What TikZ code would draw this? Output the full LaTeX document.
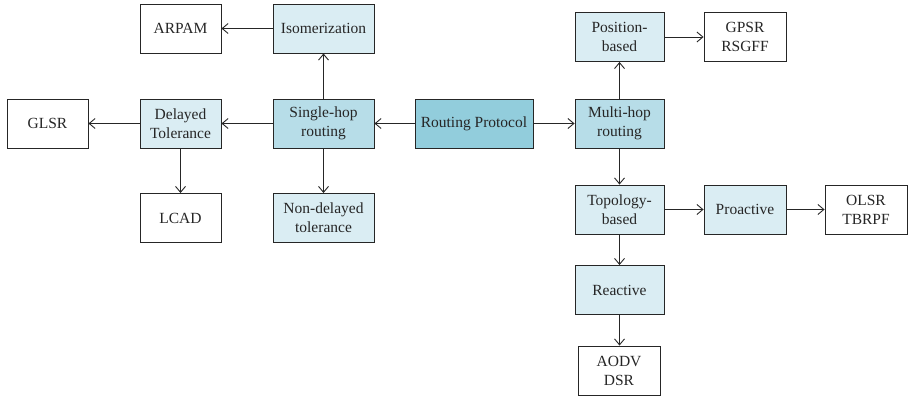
\documentclass[tikz,border=0pt]{standalone}
\usepackage{fontspec}
\setmainfont{Liberation Serif}
\usetikzlibrary{arrows.meta}

\definecolor{lightblue}{HTML}{DAEDF3}
\definecolor{midblue}{HTML}{B7DDE8}
\definecolor{darkblue}{HTML}{92CDDC}

\tikzset{
  box/.style={draw=black!85, line width=0.9pt, minimum height=49pt, inner sep=1pt,
    align=center, font=\fontsize{15.5}{19}\selectfont, text=black!85},
  leafbox/.style={box, fill=white},
  subbox/.style={box, fill=lightblue},
  hopbox/.style={box, fill=midblue},
  rootbox/.style={box, fill=darkblue},
  link/.style={->, draw=black!85, line width=0.9pt},
  >={Straight Barb[length=6pt,width=10pt]}
}

\begin{document}
\begin{tikzpicture}[x=1pt,y=-1pt]
            \useasboundingbox (0,0) rectangle (908,396);
            % root
            \node[rootbox, minimum width=118pt] (rp) at (474,123.5) {Routing Protocol};
            % single-hop side
            \node[hopbox, minimum width=101pt] (single) at (323.5,123.5) {Single-hop\\routing};
            \node[subbox, minimum width=101pt] (iso) at (323.5,28.5) {Isomerization};
            \node[subbox, minimum width=101pt] (nondelay) at (323.5,218) {Non-delayed\\tolerance};
            \node[subbox, minimum width=81pt] (delay) at (180.5,123.5) {Delayed\\Tolerance};
            \node[leafbox, minimum width=81pt] (arpam) at (180.5,28.5) {ARPAM};
            \node[leafbox, minimum width=81pt] (glsr) at (47.5,123.5) {GLSR};
            \node[leafbox, minimum width=81pt] (lcad) at (180.5,218) {LCAD};
            % multi-hop side
            \node[hopbox, minimum width=89pt] (multi) at (619.5,123.5) {Multi-hop\\routing};
            \node[subbox, minimum width=89pt] (pos) at (619.5,37) {Position-\\based};
            \node[leafbox, minimum width=82pt] (gpsr) at (745,37) {GPSR\\RSGFF};
            \node[subbox, minimum width=89pt] (topo) at (619.5,209.5) {Topology-\\based};
            \node[subbox, minimum width=82pt] (pro) at (745,209.5) {Proactive};
            \node[leafbox, minimum width=82pt] (olsr) at (866,209.5) {OLSR\\TBRPF};
            \node[subbox, minimum width=89pt] (rea) at (619.5,290) {Reactive};
            \node[leafbox, minimum width=82pt] (aodv) at (619,370.5) {AODV\\DSR};
            % connectors
            \draw[link] (rp) -- (single);
            \draw[link] (rp) -- (multi);
            \draw[link] (single) -- (iso);
            \draw[link] (single) -- (nondelay);
            \draw[link] (single) -- (delay);
            \draw[link] (iso) -- (arpam);
            \draw[link] (delay) -- (glsr);
            \draw[link] (delay) -- (lcad);
            \draw[link] (multi) -- (pos);
            \draw[link] (multi) -- (topo);
            \draw[link] (pos) -- (gpsr);
            \draw[link] (topo) -- (pro);
            \draw[link] (pro) -- (olsr);
            \draw[link] (topo) -- (rea);
            \draw[link] (rea) -- (aodv.north -| rea.south);
        \end{tikzpicture}
\end{document}
